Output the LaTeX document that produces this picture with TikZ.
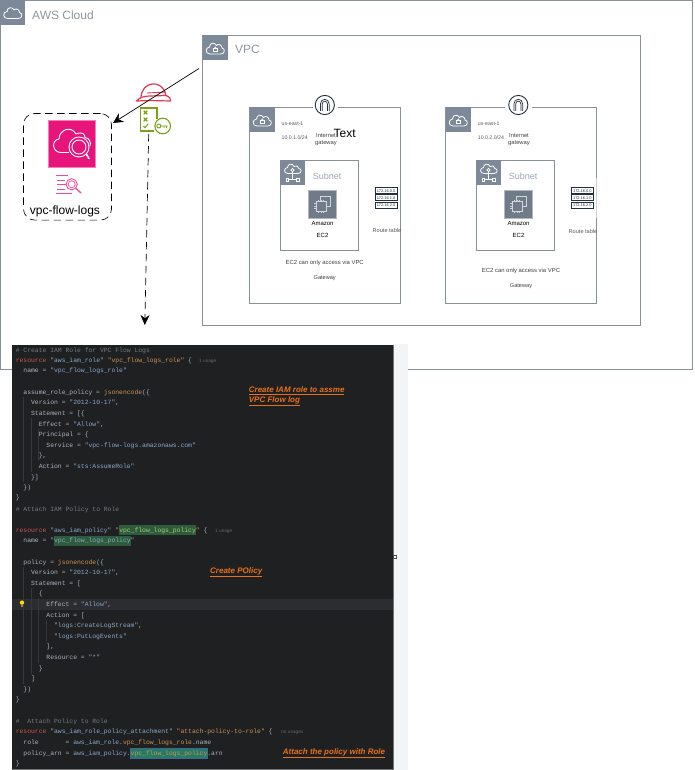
\documentclass[tikz,border=0pt]{standalone}
\usepackage{fontspec}
\setmainfont{Liberation Sans}
\setmonofont{Liberation Mono}
\usetikzlibrary{arrows.meta}
\definecolor{awsgrey}{HTML}{7D8998}
\definecolor{lbl}{HTML}{8F969D}
\definecolor{awsline}{HTML}{879196}
\definecolor{pinkb}{HTML}{E7157B}
\definecolor{pinkl}{HTML}{F2489A}
\definecolor{helmet}{HTML}{E8354F}
\definecolor{iamg}{HTML}{7AA116}
\definecolor{navy}{HTML}{232F3E}
\definecolor{idebg}{HTML}{1F2022}
\definecolor{idefg}{HTML}{A9B4BD}
\definecolor{idekw}{HTML}{C8564F}
\definecolor{idest}{HTML}{8AA9C4}
\definecolor{ideor}{HTML}{CF9255}
\definecolor{idecm}{HTML}{75797E}
\definecolor{idegr}{HTML}{2F5B3D}
\definecolor{idesel}{HTML}{2C2D30}
\definecolor{ideguide}{HTML}{35373B}
\definecolor{strip}{HTML}{F3F4F6}
\definecolor{note}{HTML}{E8701A}
\newcommand{\cK}[1]{\textcolor{idekw}{#1}}
\newcommand{\cS}[1]{\textcolor{idest}{#1}}
\newcommand{\cO}[1]{\textcolor{ideor}{#1}}
\newcommand{\cC}[1]{\textcolor{idecm}{#1}}
\newcommand{\cG}[1]{\textcolor{ideor!60!green!70!white}{#1}}
\newcommand{\codeln}[4]{\node[codeline] (#1) at ({15.6+#2*3.83},#3+2) {#4};}
\newcommand{\hl}[4]{\fill[#4] ({15.6+#1*3.83},#3-5.2) rectangle ({15.6+(#1+#2)*3.83},#3+5.2);}
\tikzset{
  x=1pt,y=-1pt,
  lab/.style={inner sep=0pt,text=lbl,font=\fontsize{12}{14}\selectfont},
  tiny/.style={inner sep=0pt,text=#1,font=\fontsize{5.2}{6}\selectfont},
  tiny/.default=black!65,
  awsbox/.style={draw=awsline,line width=.9pt},
  iconline/.style={draw=white,line width=.8pt,line join=round},
  codeline/.style={anchor=base west,inner sep=0pt,text=idefg,font=\ttfamily\fontsize{6.385}{7}\selectfont},
  hint/.style={anchor=base west,inner sep=0pt,text=black!60,font=\fontsize{4.8}{6}\selectfont},
  rtrow/.style={draw=navy,line width=1pt,fill=white,minimum width=22pt,minimum height=5.6pt,inner sep=0pt,text=navy,font=\fontsize{3.9}{4}\selectfont},
  notetext/.style={anchor=base west,inner sep=0pt,text=note,font=\bfseries\itshape\fontsize{8}{9}\selectfont},
  pics/lockicon/.style={code={
    \fill[awsgrey] (0,0) rectangle (25,25);
    \draw[iconline] (7.5,18.5) -- (18.5,18.5) .. controls (22.5,18.5) and (23,13) .. (19.5,12.5) .. controls (19.5,9) and (15.5,8) .. (14,10) .. controls (12.5,6.5) and (7,7) .. (7,11.5) .. controls (2.5,12) and (2.5,18.5) .. (7.5,18.5) -- cycle;
    \draw[white,line width=.6pt] (10.7,13.3) rectangle (15,16.3);
    \draw[white,line width=.6pt] (11.5,13.3) .. controls (11.5,10.8) and (14.2,10.8) .. (14.2,13.3);
  }},
  pics/plaincloud/.style={code={
    \fill[awsgrey] (0,0) rectangle (25,25);
    \draw[iconline] (7.5,18.5) -- (18.5,18.5) .. controls (22.5,18.5) and (23,13) .. (19.5,12.5) .. controls (19.5,9) and (15.5,8) .. (14,10) .. controls (12.5,6.5) and (7,7) .. (7,11.5) .. controls (2.5,12) and (2.5,18.5) .. (7.5,18.5) -- cycle;
  }},
  pics/subneticon/.style={code={
    \fill[awsgrey] (0,0) rectangle (25,25);
    \draw[iconline] (8,13.5) .. controls (3.5,13.5) and (3.5,8) .. (7.5,7.5) .. controls (7.5,3.5) and (13,3) .. (14,6.5) .. controls (16,5) and (19,6) .. (18.8,8.5) .. controls (22,8.5) and (22,13.5) .. (18,13.5) -- cycle;
    \fill[awsgrey] (12.5,10) circle (2);
    \draw[white,line width=.6pt] (12.5,10) circle (1.6);
    \draw[white,line width=.6pt] (12.5,11.6) -- (12.5,19.5) (8,19.5) -- (17,19.5);
    \draw[white,line width=.6pt,fill=awsgrey] (6,18) rectangle (8.6,21) (16.4,18) rectangle (19,21);
  }},
  pics/igwicon/.style={code={
    \draw[navy,fill=white,line width=.9pt] (0,0) circle (9.6);
    \draw[navy,line width=.7pt] (-4.4,6) -- (-4.4,-1) .. controls (-4.4,-7.2) and (4.4,-7.2) .. (4.4,-1) -- (4.4,6);
    \draw[navy,line width=.7pt] (-2.6,6) -- (-2.6,-1) .. controls (-2.6,-4.7) and (2.6,-4.7) .. (2.6,-1) -- (2.6,6);
  }},
  pics/ecicon/.style={code={
    \fill[awsgrey!90!black,draw=awsgrey!60!white,line width=.6pt] (0,0) rectangle (28.4,28.7);
    \draw[white!65!awsgrey,line width=.5pt] (12,6) rectangle (22,16.5);
    \draw[white!65!awsgrey,line width=.5pt,fill=awsgrey!90!black] (7.5,11) rectangle (17.5,21.5);
    \draw[white!65!awsgrey,line width=.4pt] (10,9.5) -- (10,11) (12.5,9.5) -- (12.5,11) (15,9.5) -- (15,11) (10,21.5) -- (10,23) (12.5,21.5) -- (12.5,23) (15,21.5) -- (15,23) (6,13.5) -- (7.5,13.5) (6,16) -- (7.5,16) (6,18.5) -- (7.5,18.5);
  }}
}
\begin{document}
\begin{tikzpicture}
\useasboundingbox (0,0) rectangle (694,770);
% AWS Cloud
\draw[awsbox] (0.5,0.5) rectangle (692.5,369.5);
\pic at (0,0) {plaincloud};
\node[lab,anchor=west] (awslabel) at (32,15) {AWS Cloud};
% VPC
\draw[awsbox] (202.5,35.5) rectangle (640,325);
\pic at (202.5,35.5) {lockicon};
\node[lab,anchor=west] (vpclabel) at (235,49) {VPC};
% Zone 1
\draw[awsbox] (249.5,107.5) rectangle (400.5,303);
\pic at (249.5,107.5) {lockicon};
\fill[white] (313,105) rectangle (338,110);
\pic at (324.8,105) {igwicon};
\node[tiny,anchor=west] (az1) at (281.5,124) {us-east-1};
\node[tiny,anchor=west] (cidr1) at (281.5,138) {10.0.1.0/24};
\node[tiny=black!75,align=center,font=\fontsize{5.8}{6}\selectfont] (igw1) at (326,139.5) {Internet\\[1.6pt]gateway};
\node[inner sep=0pt,anchor=west,font=\fontsize{12}{14}\selectfont] (freetext) at (333.5,133.5) {Text};
\draw[awsbox] (280.5,160.5) rectangle (358.5,250.5);
\pic at (280,160) {subneticon};
\node[inner sep=0pt,anchor=west,text=lbl!85!white,font=\fontsize{9}{11}\selectfont] (sub1) at (312.7,176) {Subnet};
\pic at (308.3,190) {ecicon};
\node[tiny=black,font=\fontsize{6}{7}\selectfont] (ama1) at (322.5,223) {Amazon};
\node[tiny=black,font=\fontsize{6}{7}\selectfont] (ec1) at (322.5,235) {EC2};
\node[rtrow] (rt1a) at (386,190.7) {172.16.0.0};
\node[rtrow] (rt1b) at (386,197.7) {172.16.1.0};
\node[rtrow] (rt1c) at (386,205.2) {172.16.2.0};
\node[tiny,font=\fontsize{5.6}{6}\selectfont] (rtl1) at (387,230) {Route table};
\node[tiny=black!75,font=\fontsize{5.9}{7}\selectfont] (via1) at (324.7,262.7) {EC2 can only access via VPC};
\node[tiny=black!75,font=\fontsize{5.6}{7}\selectfont] (gw1) at (324.7,278) {Gateway};
% Zone 2
\draw[awsbox] (445.5,107.5) rectangle (596.5,303);
\draw[white!60!awsline,line width=.9pt] (596.5,178) -- (596.5,218);
\pic at (445.5,107.5) {lockicon};
\fill[white] (505,105) rectangle (532,110);
\pic at (518.3,105) {igwicon};
\node[tiny,anchor=west] (az2) at (477.7,124) {us-east-1};
\node[tiny,anchor=west] (cidr2) at (477.7,138) {10.0.2.0/24};
\node[tiny=black!75,align=center,font=\fontsize{5.8}{6}\selectfont] (igw2) at (519,139.5) {Internet\\[1.6pt]gateway};
\draw[awsbox] (476.5,160.5) rectangle (554.5,250.5);
\pic at (476,160) {subneticon};
\node[inner sep=0pt,anchor=west,text=lbl!85!white,font=\fontsize{9}{11}\selectfont] (sub2) at (508.7,176) {Subnet};
\pic at (504.3,190) {ecicon};
\node[tiny=black,font=\fontsize{6}{7}\selectfont] (ama2) at (518.5,223) {Amazon};
\node[tiny=black,font=\fontsize{6}{7}\selectfont] (ec2) at (518.5,235) {EC2};
\node[rtrow] (rt2a) at (582.3,190.7) {172.16.0.0};
\node[rtrow] (rt2b) at (582.3,197.7) {172.16.1.0};
\node[rtrow] (rt2c) at (582.3,205.2) {172.16.2.0};
\node[tiny,font=\fontsize{5.6}{6}\selectfont] (rtl2) at (583,231) {Route table};
\node[tiny=black!75,font=\fontsize{5.9}{7}\selectfont] (via2) at (521,271) {EC2 can only access via VPC};
\node[tiny=black!75,font=\fontsize{5.6}{7}\selectfont] (gw2) at (521,286) {Gateway};
% vpc flow logs group
\node[draw=black,dash pattern=on 7.5pt off 4.5pt,line width=.6pt,rounded corners=11pt,minimum width=88pt,minimum height=106.5pt,inner sep=0pt] (flowgroup) at (67.5,166.8) {};
\fill[pinkb,draw=pinkl!70!white,line width=.7pt] (48.5,120.5) rectangle (95.5,167);
\draw[white,line width=.9pt,line join=round] (69,152.5) -- (61,152.5) .. controls (52,152.5) and (51,140) .. (59,139) .. controls (59,130) and (71,125) .. (76,134) .. controls (83,131) and (85,135) .. (85,137.5) .. controls (90,138) and (91,143) .. (90,146);
\draw[white,fill=pinkb,line width=.9pt] (79,147) circle (10);
\draw[white,line width=.9pt] (79,147) circle (7);
\draw[white,line width=1.6pt,line cap=round] (86.5,154.5) -- (89,158.5);
\draw[pinkl,line width=.9pt] (56,175.3) -- (68,175.3) (57,180) -- (65,180) (57,184.3) -- (72,184.3) (57,189) -- (65,189) (56,193.7) -- (72,193.7);
\draw[pinkl,fill=white,line width=.9pt] (71.7,184.3) circle (5.6);
\draw[pinkl,line width=.7pt] (71.7,184.3) circle (3.5);
\draw[pinkl,line width=1.3pt,line cap=round] (76,188.5) -- (81,193);
\node[inner sep=0pt,font=\fontsize{12}{14}\selectfont] (flowlabel) at (65,211) {vpc-flow-logs};
% helmet
\draw[helmet,line width=1.2pt,line join=round] (141,98) .. controls (141,81) and (163,78) .. (166,96);
\draw[helmet,line width=1.2pt,line join=round] (136.5,101) .. controls (140,97) and (145,96) .. (150,96) -- (166,95.5) .. controls (170,97) and (171,99) .. (170.5,101) -- (150,100.5) -- cycle;
\draw[helmet,line width=.9pt] (147,93) -- (166,92);
% IAM policy icon
\node[minimum width=32pt,minimum height=24pt,inner sep=0pt] (iam) at (155,119.5) {};
\draw[iamg,line width=1.1pt] (154,131) -- (140.5,131) -- (140.5,108) -- (157,108) -- (157,119);
\draw[iamg,line width=1.1pt] (143.7,110.7) -- (147.3,114.3) (147.3,110.7) -- (143.7,114.3);
\draw[iamg,line width=1.1pt] (143.7,117.7) -- (147.3,121.3) (147.3,117.7) -- (143.7,121.3);
\draw[iamg,line width=1.1pt] (143.5,126) -- (145,127.7) -- (148,124);
\draw[iamg,fill=white,line width=1.1pt] (162.7,126) circle (7.8);
\draw[iamg,line width=.9pt] (158.8,126) circle (2) (160.8,126) -- (167.5,126) (164,126) -- (164,128) (166.5,126) -- (166.5,128);
% connectors
\coordinate (vpcout) at (199,68.5);
\coordinate (groupcorner) at (113,123);
\coordinate (iamdown) at (148.7,134);
\coordinate (codepanel) at (144.8,325);
\draw[black,line width=.7pt,-{Stealth[length=10pt,width=10pt]}] (vpcout) -- (groupcorner);
\draw[black,dash pattern=on 7.5pt off 4.5pt,line width=.7pt,-{Stealth[length=10pt,width=9pt]}] (iamdown) -- (codepanel);
% code panel
\fill[strip] (393,344) rectangle (408,770);
\fill[idebg] (11.7,344.5) rectangle (393,769.3);
\draw[black!55,line width=.5pt] (11.7,769.3) -- (393,769.3) -- (393,344.5);
\fill[idesel] (11.7,598.7) rectangle (393,609.9);
\draw[ideguide,line width=.5pt] (23,397) -- (23,482) (30.8,418) -- (30.8,472) (38.5,429) -- (38.5,461);
\draw[ideguide,line width=.5pt] (23,567) -- (23,684) (30.8,588) -- (30.8,674) (38.5,598) -- (38.5,663) (46.2,620) -- (46.2,642);
\hl{27}{20}{530}{idegr}
\hl{10}{20}{540.7}{idegr}
\fill[idegr!80!cyan] ({15.6+30*3.83},747.8) rectangle ({15.6+50*3.83},758.2);
\draw[cyan!50!blue!70!black,line width=.4pt] ({15.6+30*3.83},747.8) rectangle ({15.6+50*3.83},758.2);
\fill[yellow!80!orange] (22,602.6) circle (2.2);
\fill[yellow!50!black] (21,605) rectangle (23,607);
\codeln{c1}{0}{350}{\cC{\# Create IAM Role for VPC Flow Logs}}
\codeln{c2}{0}{360.3}{\cK{resource} \cS{"aws\_iam\_role"} \cO{"vpc\_flow\_logs\_role"} \{}
\node[hint] (h1) at (199,362.3) {1 usage};
\codeln{c3}{2}{370.7}{name = \cS{"vpc\_flow\_logs\_role"}}
\codeln{c4}{2}{392}{assume\_role\_policy = \cO{jsonencode}(\{}
\codeln{c5}{4}{402.7}{Version = \cS{"2012-10-17"},}
\codeln{c6}{4}{413.3}{Statement = [\{}
\codeln{c7}{6}{424}{Effect = \cS{"Allow"},}
\codeln{c8}{6}{434.7}{Principal = \{}
\codeln{c9}{8}{445.3}{Service = \cS{"vpc-flow-logs.amazonaws.com"}}
\codeln{c10}{6}{455.7}{\},}
\codeln{c11}{6}{466.3}{Action = \cS{"sts:AssumeRole"}}
\codeln{c12}{4}{477}{\}]}
\codeln{c13}{2}{487.7}{\})}
\codeln{c14}{0}{497.5}{\}}
\codeln{c15}{0}{509}{\cC{\# Attach IAM Policy to Role}}
\codeln{c16}{0}{530}{\cK{resource} \cS{"aws\_iam\_policy"} \cO{"}\cG{vpc\_flow\_logs\_policy}\cO{"} \{}
\node[hint] (h2) at (215,532) {1 usage};
\codeln{c17}{2}{540.7}{name = \cS{"vpc\_flow\_logs\_policy"}}
\codeln{c18}{2}{562}{policy = \cO{jsonencode}(\{}
\codeln{c19}{4}{572.3}{Version = \cS{"2012-10-17"},}
\codeln{c20}{4}{583}{Statement = [}
\codeln{c21}{6}{593.3}{\{}
\codeln{c22}{8}{604.3}{Effect = \cS{"Allow"},}
\codeln{c23}{8}{615}{Action = [}
\codeln{c24}{10}{625.7}{\cS{"logs:CreateLogStream"},}
\codeln{c25}{10}{636}{\cS{"logs:PutLogEvents"}}
\codeln{c26}{8}{646.7}{],}
\codeln{c27}{8}{657.3}{Resource = \cS{"*"}}
\codeln{c28}{6}{668}{\}}
\codeln{c29}{4}{678}{]}
\codeln{c30}{2}{689}{\})}
\codeln{c31}{0}{699.3}{\}}
\codeln{c32}{0}{721}{\cC{\#\hspace{7.66pt}Attach Policy to Role}}
\codeln{c33}{0}{731.7}{\cK{resource} \cS{"aws\_iam\_role\_policy\_attachment"} \cO{"attach-policy-to-role"} \{}
\node[hint] (h3) at (281,733.7) {no usages};
\codeln{c34}{2}{742.3}{role\hspace{26.81pt}= \cS{aws\_iam\_role.}\cO{vpc\_flow\_logs\_role}.name}
\codeln{c35}{2}{753}{policy\_arn = \cS{aws\_iam\_policy.}\cO{vpc\_flow\_logs\_policy}.arn}
\codeln{c36}{0}{763}{\}}
% annotations
\node[notetext] (n1) at (248.7,392.4) {\underline{Create IAM role to assme}};
\node[notetext] (n2) at (248.7,402.2) {\underline{VPC Flow log}};
\node[notetext] (n3) at (210,573.2) {\underline{Create POlicy}};
\node[notetext] (n4) at (282.7,754.2) {\underline{Attach the policy with Role}};
% selection handles
\draw[black!70,fill=white,line width=.5pt] (393.5,555.5) rectangle (396.5,558.5);
\end{tikzpicture}
\end{document}
